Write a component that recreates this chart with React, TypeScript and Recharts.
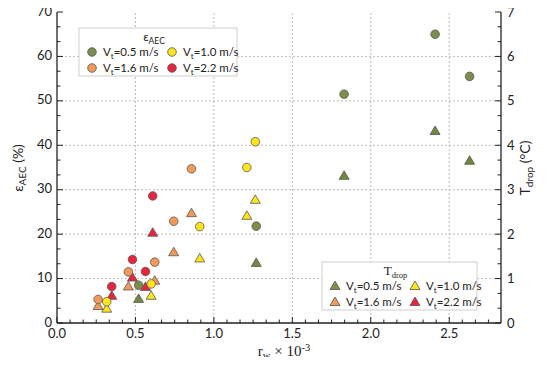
import { ScatterChart, Scatter, XAxis, YAxis, ReferenceLine } from 'recharts';

// r_w (x10^-3), eps_AEC (%), T_drop (°C) per terminal velocity
const rw05 = [0.52, 1.27, 1.83, 2.41, 2.63];
const eps05 = [8.5, 21.8, 51.5, 65.0, 55.5];
const tdrop05 = [0.54, 1.35, 3.31, 4.32, 3.65];

const rw10 = [0.317, 0.6, 0.91, 1.21, 1.264];
const eps10 = [4.8, 8.8, 21.7, 35.0, 40.8];
const tdrop10 = [0.32, 0.61, 1.45, 2.41, 2.77];

const rw16 = [0.262, 0.455, 0.623, 0.744, 0.857];
const eps16 = [5.3, 11.5, 13.7, 22.9, 34.7];
const tdrop16 = [0.38, 0.82, 0.95, 1.59, 2.47];

const rw22 = [0.349, 0.481, 0.564, 0.61];
const eps22 = [8.2, 14.3, 11.6, 28.6];
const tdrop22 = [0.61, 1.02, 0.81, 2.03];

const xMajor = [0, 0.5, 1.0, 1.5, 2.0, 2.5];
const yMajor = [0, 10, 20, 30, 40, 50, 60, 70];
const tMajor = [0, 1, 2, 3, 4, 5, 6, 7];

const X_MAX = 2.83;
const xTicks = Array.from({ length: 34 }, (_, i) => +(i * (0.5 / 6)).toFixed(4));
const yTicks = Array.from({ length: 22 }, (_, i) => +(i * (10 / 3)).toFixed(4));
const tTicks = Array.from({ length: 22 }, (_, i) => +(i * (1 / 3)).toFixed(4));

const GREEN = '#7d8d4c';
const ORANGE = '#f39a58';
const YELLOW = '#ffe41a';
const RED = '#e8253f';
const EDGE = '#555';

const FONT = 'Lato, "Noto Sans", sans-serif';
const SERIF = '"Liberation Serif", serif';

const zip = (xs: number[], ys: number[]) => xs.map((x, i) => ({ x, y: ys[i] }));

const isMajor = (v: number, majors: number[]) => majors.some((m) => Math.abs(m - v) < 1e-6);

const Circle = (color: string) => (props: any) => (
  <circle cx={props.cx} cy={props.cy} r={4.3} fill={color} stroke={EDGE} strokeWidth={0.8} />
);

const Triangle = (color: string) => (props: any) => {
  const { cx, cy } = props;
  const h = 8.5;
  const w = 10;
  return (
    <polygon
      points={`${cx},${cy - h * 0.6} ${cx - w / 2},${cy + h * 0.4} ${cx + w / 2},${cy + h * 0.4}`}
      fill={color}
      stroke={EDGE}
      strokeWidth={0.8}
    />
  );
};

const BottomTick = (props: any) => {
  const { x, y, payload } = props;
  const major = isMajor(payload.value, xMajor);
  return (
    <g>
      <line x1={x} x2={x} y1={y} y2={y - (major ? 6 : 3.5)} stroke="#222" strokeWidth={1} />
      {major && (
        <text x={x} y={y + 15} textAnchor="middle" fontSize={13} fontFamily={FONT} fill="#222">
          {payload.value.toFixed(1)}
        </text>
      )}
    </g>
  );
};

const TopTick = (props: any) => {
  const { x, y, payload } = props;
  const major = isMajor(payload.value, xMajor);
  return <line x1={x} x2={x} y1={y} y2={y + (major ? 6 : 3.5)} stroke="#222" strokeWidth={1} />;
};

const LeftTick = (props: any) => {
  const { x, y, payload } = props;
  const major = isMajor(payload.value, yMajor);
  return (
    <g>
      <line x1={x} x2={x + (major ? 6 : 3.5)} y1={y} y2={y} stroke="#222" strokeWidth={1} />
      {major && (
        <text x={x - 5} y={y + 3.5} textAnchor="end" fontSize={13} fontFamily={FONT} fill="#222">
          {payload.value}
        </text>
      )}
    </g>
  );
};

const RightTick = (props: any) => {
  const { x, y, payload } = props;
  const v = Math.round(payload.value * 1000) / 1000;
  const major = isMajor(v, tMajor);
  return (
    <g>
      <line x1={x} x2={x - (major ? 6 : 3.5)} y1={y} y2={y} stroke="#222" strokeWidth={1} />
      {major && (
        <text x={x + 6} y={y + 4.5} textAnchor="start" fontSize={13} fontFamily={FONT} fill="#222">
          {v}
        </text>
      )}
    </g>
  );
};

const grid = { stroke: '#bdbdbd', strokeDasharray: '2 2', strokeWidth: 1 };

const legendRows = [
  { label: '0.5', color: GREEN },
  { label: '1.0', color: YELLOW },
  { label: '1.6', color: ORANGE },
  { label: '2.2', color: RED },
];

function Vt({ x, y, v }: { x: number; y: number; v: string }) {
  return (
    <text x={x} y={y} fontSize={11.5} fontFamily={FONT} fill="#222">
      V<tspan fontSize={8} dy={3}>t</tspan>
      <tspan dy={-3}>={v} m/s</tspan>
    </text>
  );
}

function LegendBox({ x, y, w, title, sub, tri, serif }: { x: number; y: number; w: number; title: string; sub: string; tri: boolean; serif: boolean }) {
  const cols = [x + 13, x + 93];
  const rows = [y + 24, y + 40];
  return (
    <g>
      <rect x={x} y={y} width={w} height={48} fill="#fff" stroke="#cfcfcf" strokeWidth={1} />
      <text x={x + w / 2 - 4} y={y + 13} textAnchor="middle" fontSize={serif ? 13 : 12} fontFamily={serif ? SERIF : FONT} fill="#222">
        {title}
        <tspan fontSize={8.5} dy={2.5}>{sub}</tspan>
      </text>
      {legendRows.map((r, i) => {
        const cx = cols[i % 2];
        const cy = rows[Math.floor(i / 2)];
        return (
          <g key={r.label}>
            {tri ? (
              <polygon
                points={`${cx},${cy - 5} ${cx - 5},${cy + 3.5} ${cx + 5},${cy + 3.5}`}
                fill={r.color}
                stroke={EDGE}
                strokeWidth={0.8}
              />
            ) : (
              <circle cx={cx} cy={cy} r={4.3} fill={r.color} stroke={EDGE} strokeWidth={0.8} />
            )}
            <Vt x={cx + 11} y={cy + 4} v={r.label} />
          </g>
        );
      })}
    </g>
  );
}

export default function App() {
  return (
    <div style={{ position: 'relative', width: 546, height: 365, margin: -8, background: '#fff' }}>
      <ScatterChart width={546} height={365} margin={{ top: 12, right: 15, bottom: 12, left: 12 }}>
        <XAxis
          xAxisId="b"
          type="number"
          dataKey="x"
          domain={[0, X_MAX]}
          ticks={xTicks}
          interval={0}
          tick={BottomTick}
          tickSize={0}
          tickMargin={0}
          tickLine={false}
          axisLine={{ stroke: '#222', strokeWidth: 1.3 }}
          height={30}
          allowDataOverflow
        />
        <XAxis
          xAxisId="t"
          orientation="top"
          type="number"
          domain={[0, X_MAX]}
          ticks={xTicks}
          interval={0}
          tick={TopTick}
          tickSize={0}
          tickMargin={0}
          tickLine={false}
          axisLine={{ stroke: '#222', strokeWidth: 1.3 }}
          height={0}
          allowDataOverflow
        />
        <YAxis
          yAxisId="l"
          type="number"
          dataKey="y"
          domain={[0, 70]}
          ticks={yTicks}
          interval={0}
          tick={LeftTick}
          tickSize={0}
          tickMargin={0}
          tickLine={false}
          axisLine={{ stroke: '#222', strokeWidth: 1.3 }}
          width={45}
          allowDataOverflow
        />
        <YAxis
          yAxisId="r"
          orientation="right"
          type="number"
          dataKey="y"
          domain={[0, 7]}
          ticks={tTicks}
          interval={0}
          tick={RightTick}
          tickSize={0}
          tickMargin={0}
          tickLine={false}
          axisLine={{ stroke: '#222', strokeWidth: 1.3 }}
          width={30}
          allowDataOverflow
        />
        {xMajor.slice(1).map((v) => (
          <ReferenceLine key={`gx${v}`} x={v} xAxisId="b" yAxisId="l" {...grid} />
        ))}
        {yMajor.slice(1, -1).map((v) => (
          <ReferenceLine key={`gy${v}`} y={v} xAxisId="b" yAxisId="l" {...grid} />
        ))}
        <Scatter data={zip(rw05, tdrop05)} xAxisId="b" yAxisId="r" shape={Triangle('#6f8a3c')} isAnimationActive={false} />
        <Scatter data={zip(rw10, tdrop10)} xAxisId="b" yAxisId="r" shape={Triangle(YELLOW)} isAnimationActive={false} />
        <Scatter data={zip(rw16, tdrop16)} xAxisId="b" yAxisId="r" shape={Triangle(ORANGE)} isAnimationActive={false} />
        <Scatter data={zip(rw22, tdrop22)} xAxisId="b" yAxisId="r" shape={Triangle(RED)} isAnimationActive={false} />
        <Scatter data={zip(rw05, eps05)} xAxisId="b" yAxisId="l" shape={Circle(GREEN)} isAnimationActive={false} />
        <Scatter data={zip(rw10, eps10)} xAxisId="b" yAxisId="l" shape={Circle(YELLOW)} isAnimationActive={false} />
        <Scatter data={zip(rw16, eps16)} xAxisId="b" yAxisId="l" shape={Circle(ORANGE)} isAnimationActive={false} />
        <Scatter data={zip(rw22, eps22)} xAxisId="b" yAxisId="l" shape={Circle(RED)} isAnimationActive={false} />
      </ScatterChart>
      <svg width={546} height={365} style={{ position: 'absolute', left: 0, top: 0, pointerEvents: 'none' }}>
        <LegendBox x={79} y={28} w={158} title="ε" sub="AEC" tri={false} serif={false} />
        <LegendBox x={322} y={262} w={155} title="T" sub="drop" tri={true} serif={true} />
        <text transform="translate(23,168) rotate(-90)" textAnchor="middle" fontSize={14} fontFamily={FONT} fill="#222">
          ε<tspan fontSize={10} dy={3}>AEC</tspan>
          <tspan dy={-3}> (%)</tspan>
        </text>
        <text transform="translate(530,168) rotate(-90)" textAnchor="middle" fontSize={14} fontFamily={FONT} fill="#222">
          T<tspan fontSize={10} dy={3}>drop</tspan>
          <tspan dy={-3}> (°C)</tspan>
        </text>
        <text x={284} y={356} textAnchor="middle" fontSize={15} fontFamily={SERIF} fill="#222">
          r<tspan fontSize={10.5} dy={3}>w</tspan>
          <tspan dy={-3}> × 10</tspan>
          <tspan fontSize={10.5} dy={-5}>-3</tspan>
        </text>
      </svg>
    </div>
  );
}
